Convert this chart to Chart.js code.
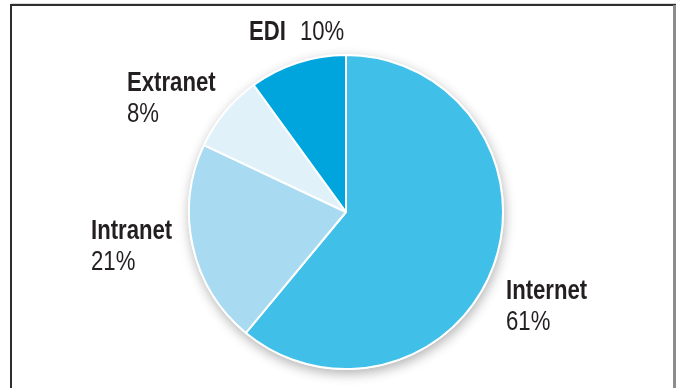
<!DOCTYPE html>
<html>
<head>
<meta charset="utf-8">
<script src="https://cdn.jsdelivr.net/npm/chart.js@4/dist/chart.umd.min.js"></script>
<style>
  html, body { margin: 0; padding: 0; background: #fff; }
  canvas { display: block; }
</style>
</head>
<body>
<canvas id="share-chart" width="679" height="388"></canvas>
<script>
const categories = ["Internet", "Intranet", "Extranet", "EDI"];
const shares = [61, 21, 8, 10];
const sliceColors = ["#40bfe9", "#a8daf2", "#e0f1fa", "#00a5dd"];

// label placement relative to the pie centre (baseline of the bold name)
const labelLayout = [
  { dx: 160, dy: 87, inline: false },
  { dx: -255, dy: 27, inline: false },
  { dx: -219, dy: -121, inline: false },
  { dx: -97, dy: -172, inline: true },
];

const FONT = "'Liberation Sans', Arial, sans-serif";
const NARROW = 0.82; // squeeze Liberation Sans to a narrow cut

const framePlugin = {
  id: "frame",
  beforeDraw(chart) {
    const ctx = chart.ctx;
    ctx.save();
    ctx.fillStyle = "#d9d9d9";
    ctx.fillRect(11, 3, 665, 1);
    ctx.fillStyle = "#2e2e2e";
    ctx.fillRect(11, 4, 665, 2);
    ctx.fillRect(10, 4, 2, 384);
    ctx.fillStyle = "#8c8c8c";
    ctx.fillRect(673, 5, 3, 383);
    ctx.restore();
  },
};

const shadowPlugin = {
  id: "pieShadow",
  beforeDatasetsDraw(chart) {
    const arc = chart.getDatasetMeta(0).data[0];
    if (!arc) return;
    const ctx = chart.ctx;
    ctx.save();
    ctx.shadowColor = "rgba(0,0,0,0.3)";
    ctx.shadowBlur = 12;
    ctx.shadowOffsetX = 1;
    ctx.shadowOffsetY = 4;
    ctx.fillStyle = "#ffffff";
    ctx.beginPath();
    ctx.arc(arc.x, arc.y, arc.outerRadius + 1, 0, Math.PI * 2);
    ctx.fill();
    ctx.restore();
  },
};

function narrowText(ctx, text, x, y) {
  ctx.save();
  ctx.translate(x, y);
  ctx.scale(NARROW, 1);
  ctx.fillText(text, 0, 0);
  ctx.restore();
  return ctx.measureText(text).width * NARROW;
}

const labelPlugin = {
  id: "sliceLabels",
  afterDatasetsDraw(chart) {
    const meta = chart.getDatasetMeta(0);
    const ctx = chart.ctx;
    ctx.save();
    ctx.fillStyle = "#231f20";
    ctx.textBaseline = "alphabetic";
    ctx.textAlign = "left";
    meta.data.forEach((arc, i) => {
      const pos = labelLayout[i];
      const x = arc.x + pos.dx;
      const y = arc.y + pos.dy;
      ctx.font = "bold 27px " + FONT;
      const nameWidth = narrowText(ctx, categories[i], x, y);
      ctx.font = "27px " + FONT;
      const pct = shares[i] + "%";
      if (pos.inline) {
        narrowText(ctx, pct, x + nameWidth + 14, y);
      } else {
        narrowText(ctx, pct, x, y + 31);
      }
    });
    ctx.restore();
  },
};

new Chart(document.getElementById("share-chart"), {
  type: "pie",
  data: {
    labels: categories,
    datasets: [
      {
        data: shares,
        backgroundColor: sliceColors,
        borderColor: "#ffffff",
        borderWidth: 2,
        hoverOffset: 0,
        offset: 0,
      },
    ],
  },
  options: {
    responsive: false,
    animation: false,
    events: [],
    layout: {
      padding: { top: 54, bottom: 18, left: 13, right: 0 },
    },
    plugins: {
      legend: { display: false },
      tooltip: { enabled: false },
    },
  },
  plugins: [framePlugin, shadowPlugin, labelPlugin],
});
</script>
</body>
</html>
